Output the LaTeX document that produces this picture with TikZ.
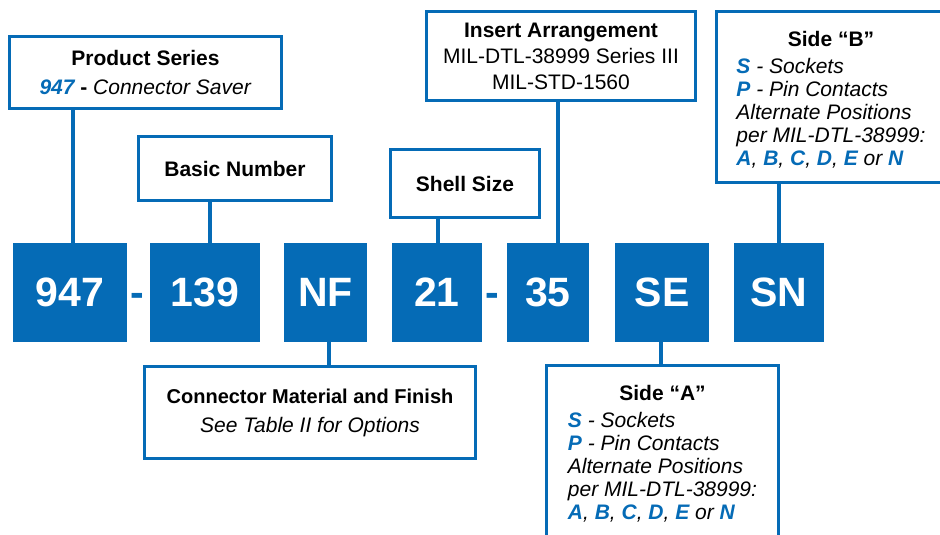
\documentclass[tikz,border=0pt]{standalone}
\usepackage{fontspec}
\setmainfont{Liberation Sans}
\usetikzlibrary{calc}

\definecolor{brand}{RGB}{5,107,182}
\newcommand{\hl}[1]{{\color{brand}\bfseries\itshape #1}}
\newcommand{\sidelist}[1]{%
  \begin{tabular}{@{}l@{}}
    \multicolumn{1}{@{}c@{}}{\rule{0pt}{24pt}\bfseries #1}\\[4pt]
    \itshape\hl{S} - Sockets\\
    \itshape\hl{P} - Pin Contacts\\
    \itshape Alternate Positions\\
    \itshape per MIL-DTL-38999:\\
    \itshape\hl{A}, \hl{B}, \hl{C}, \hl{D}, \hl{E} or \hl{N}
  \end{tabular}}

\begin{document}
\begin{tikzpicture}[x=1pt,y=-1pt,
    code/.style={fill=brand, text=white, inner sep=0pt, minimum height=99pt,
      font=\bfseries\fontsize{41}{41}\selectfont},
    sep/.style={text=brand, inner sep=0pt, font=\bfseries\fontsize{41}{41}\selectfont},
    note/.style={draw=brand, line width=3pt, fill=white, inner sep=0pt, align=center,
      font=\fontsize{21}{23}\selectfont},
    link/.style={draw=brand, line width=4pt}]

  \useasboundingbox (0,0) rectangle (940,535);
  \clip (0,0) rectangle (940,535);

  % Part number
  \node[code, minimum width=114pt] (n947) at (70,292.5) {947};
  \node[code, minimum width=110pt] (n139) at (205,292.5) {139};
  \node[code, minimum width=83pt] (nNF) at (325.5,292.5) {NF};
  \node[code, minimum width=90pt] (n21) at (437,292.5) {21};
  \node[code, minimum width=82pt] (n35) at (548,292.5) {35};
  \node[code, minimum width=94pt] (nSE) at (662,292.5) {SE};
  \node[code, minimum width=90pt] (nSN) at (779,292.5) {SN};

  % Dashes
  \node[sep, anchor=base] (d1) at ($(n947.base)!0.5!(n139.base)$) {-};
  \node[sep, anchor=base] (d2) at ($(n21.base)!0.5!(n35.base)$) {-};

  % Callouts above
  \node[note, minimum width=272pt, minimum height=72pt] (ps) at (145.5,72.5)
    {\textbf{Product Series}\\[6pt]\hl{947} \textbf{-} \textit{Connector Saver}};
  \node[note, minimum width=193pt, minimum height=64pt] (bn) at (235,168.5)
    {\textbf{Basic Number}};
  \node[note, minimum width=149pt, minimum height=68pt] (ss) at (465,183.5)
    {\textbf{Shell Size}};
  \node[note, minimum width=269pt, minimum height=89pt] (ia) at (561,56)
    {\textbf{Insert Arrangement}\\[3pt]MIL-DTL-38999 Series III\\[3pt]MIL-STD-1560};
  \node[note, minimum width=229pt, minimum height=171pt] (sb) at (831,97)
    {\sidelist{Side “B”}};

  % Callouts below
  \node[note, minimum width=331pt, minimum height=92pt] (cm) at (310,412.5)
    {{\fontsize{20}{23}\selectfont\textbf{Connector Material and Finish}}\\[6pt]\textit{See Table II for Options}};
  \node[note, minimum width=232pt, minimum height=171pt] (sa) at (662.5,451)
    {\sidelist{Side “A”}};

  % Leaders
  \draw[link] ([xshift=3pt]n947.north) -- ([xshift=3pt]n947.north |- ps.south);
  \draw[link] ([xshift=5pt]n139.north) -- ([xshift=5pt]n139.north |- bn.south);
  \draw[link] ([xshift=1pt]n21.north) -- ([xshift=1pt]n21.north |- ss.south);
  \draw[link] ([xshift=10pt]n35.north) -- ([xshift=10pt]n35.north |- ia.south);
  \draw[link] (nSN.north) -- (nSN.north |- sb.south);
  \draw[link] ([xshift=3.5pt]nNF.south) -- ([xshift=3.5pt]nNF.south |- cm.north);
  \draw[link] ([xshift=-1pt]nSE.south) -- ([xshift=-1pt]nSE.south |- sa.north);

\end{tikzpicture}
\end{document}
